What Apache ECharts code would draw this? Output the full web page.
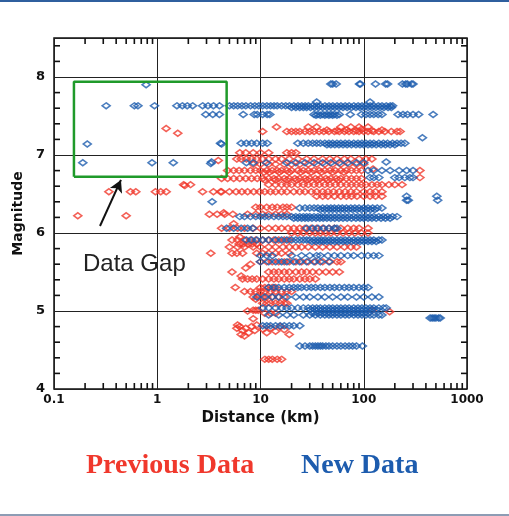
<!DOCTYPE html>
<html>
<head>
<meta charset="utf-8">
<script src="https://cdn.jsdelivr.net/npm/echarts@6.0.0/dist/echarts.min.js"></script>
<style>
  html, body { margin: 0; padding: 0; background: #fff; }
  #chart { width: 509px; height: 516px; }
</style>
</head>
<body>
<div id="chart"></div>
<script>
// distance (km), magnitude
const prevData = [
  [0.17,6.22],[0.5,6.22],[0.34,6.53],[0.55,6.53],[0.62,6.53],[0.96,6.53],[1.08,6.53],[1.22,6.53],
  [2.75,6.53],[3.5,6.53],[4.1,6.53],[1.85,6.61],[1.22,7.34],[1.58,7.28],[3.9,6.93],[3.3,5.74],
  [5.7,5.3],[4.4,6.26],[1.8,6.62],[2.1,6.62],
  [14.3,7.36],[29,7.36],[35,7.36],[60,7.36],[75,7.36],[90,7.36],[110,7.36],
  [10.5,7.3],[18,7.3],[20,7.3],[22,7.3],[24,7.3],[27,7.3],[30,7.3],[33,7.3],[37,7.3],[41,7.3],[46,7.3],
  [52,7.3],[58,7.3],[65,7.3],[72,7.3],[80,7.3],[90,7.3],[100,7.3],[110,7.3],[125,7.3],[140,7.3],
  [160,7.3],[185,7.3],[210,7.3],[225,7.3],
  [44,7.32],[55,7.31],[68,7.32],[85,7.31],[95,7.33],[120,7.31],[150,7.32],
  [6.3,7.03],[7.2,7.03],[8.5,7.03],[10,7.03],[12,7.03],[18,7.03],[20,7.03],[22,7.03],
  [5.9,6.95],[6.5,6.95],[7.3,6.95],[8.2,6.95],[9.2,6.95],[10.5,6.95],[12,6.95],[14,6.95],[16,6.95],
  [19,6.95],[23,6.95],[28,6.95],[33,6.95],[40,6.95],[47,6.95],[55,6.95],[65,6.95],[75,6.95],[90,6.95],
  [105,6.95],[120,6.95],
  [8.5,6.88],[10,6.88],[12,6.88],[14,6.88],[17,6.88],[20,6.88],[24,6.88],[29,6.88],[35,6.88],[42,6.88],
  [50,6.88],[60,6.88],[72,6.88],[85,6.88],[100,6.88],[123,6.82],
  [4.8,6.8],[5.5,6.8],[6.2,6.8],[7,6.8],[8,6.8],[9,6.8],[10,6.8],[11.5,6.8],[13,6.8],[14.5,6.8],[16,6.8],
  [18,6.8],[20,6.8],[23,6.8],[26,6.8],[29,6.8],[33,6.8],[37,6.8],[42,6.8],[47,6.8],[53,6.8],[60,6.8],
  [68,6.8],[76,6.8],[85,6.8],[95,6.8],[350,6.8],
  [10.8,6.78],[12.2,6.78],[15.2,6.78],[19,6.78],[24.5,6.78],[31,6.78],[39,6.78],[50,6.78],[64,6.78],
  [4.2,6.7],[4.8,6.7],[5.5,6.7],[6.3,6.7],[7.2,6.7],[8.2,6.7],[9.3,6.7],[10.5,6.7],[12,6.7],[13.5,6.7],
  [15,6.7],[17,6.7],[19,6.7],[21.5,6.7],[24,6.7],[27,6.7],[30,6.7],[34,6.7],[38,6.7],[43,6.7],[48,6.7],
  [54,6.7],[60,6.7],[68,6.7],[76,6.7],[85,6.7],[95,6.7],[350,6.71],
  [11,6.68],[14,6.68],[18,6.68],[22.5,6.68],[28.5,6.68],[36,6.68],[45,6.68],[57,6.68],
  [12,6.62],[14,6.62],[16,6.62],[18,6.62],[20,6.62],[23,6.62],[26,6.62],[29,6.62],[33,6.62],[37,6.62],
  [42,6.62],[47,6.62],[53,6.62],[60,6.62],[68,6.62],[76,6.62],[85,6.62],[95,6.62],[105,6.62],
  [120,6.62],[135,6.62],[150,6.62],[175,6.62],[200,6.62],[235,6.62],
  [4.2,6.53],[5,6.53],[5.8,6.53],[6.6,6.53],[7.5,6.53],[8.6,6.53],[9.8,6.53],[11,6.53],[12.5,6.53],
  [14,6.53],[16,6.53],[18,6.53],[21,6.53],[24,6.53],[27,6.53],[31,6.53],[35,6.53],[40,6.53],[45,6.53],
  [51,6.53],[58,6.53],[66,6.53],[75,6.53],[85,6.53],[100,6.53],[115,6.53],[130,6.53],[150,6.53],
  [35,6.47],[40,6.47],[45,6.47],[52,6.47],[60,6.47],[68,6.47],[76,6.47],[86,6.47],[100,6.47],
  [115,6.47],[130,6.47],[150,6.47],
  [9,6.33],[10,6.33],[11.5,6.33],[13,6.33],[14.5,6.33],[16.5,6.33],[18,6.33],[20,6.33],
  [3.2,6.24],[3.8,6.24],[4.5,6.24],[5.4,6.24],[7.5,6.24],[9,6.24],[10.5,6.24],[12,6.24],[14,6.24],
  [16,6.24],[18,6.24],
  [4.2,6.06],[5,6.06],[6,6.06],[7,6.06],[8.5,6.06],[10,6.06],[12,6.06],[14,6.06],[16,6.06],[18.5,6.06],
  [21,6.06],[24,6.06],[27,6.06],[31,6.06],[35,6.06],[40,6.06],[46,6.06],[52,6.06],[60,6.06],[70,6.06],
  [80,6.06],[90,6.06],[110,6.06],[5.5,6.12],
  [20,6.0],[23,6.0],[26,6.0],[30,6.0],[34,6.0],[38,6.0],[43,6.0],[48,6.0],[55,6.0],[63,6.0],[72,6.0],
  [82,6.0],[95,6.0],[110,6.0],
  [5.3,5.91],[6,5.91],[7,5.91],[8,5.91],[9,5.91],[10.5,5.91],[12,5.91],[13.5,5.91],[15,5.91],[17,5.91],
  [19,5.91],[6.3,5.95],
  [6.2,5.86],[6.8,5.86],[7.5,5.86],[8.3,5.86],[9.2,5.86],
  [5,5.82],[6,5.82],[7,5.82],[8.5,5.82],[10,5.82],[12,5.82],[14,5.82],[16.5,5.82],[19,5.82],[22,5.82],
  [25,5.82],[29,5.82],[34,5.82],[40,5.82],[47,5.82],[55,5.82],[65,5.82],[75,5.82],[85,5.82],
  [5.3,5.74],[5.9,5.74],[6.7,5.74],[9.2,5.74],[10.5,5.74],[12,5.74],[14,5.74],[16,5.74],[19,5.74],
  [10,5.63],[11.5,5.63],[13,5.63],[15,5.63],[17,5.63],[19,5.63],[22,5.63],[25,5.63],[29,5.63],
  [34,5.63],[40,5.63],[47,5.63],[55,5.63],[60,5.63],[8,5.6],
  [12,5.5],[13.5,5.5],[15,5.5],[17,5.5],[19,5.5],[22,5.5],[25,5.5],[28,5.5],[32,5.5],[37,5.5],
  [43,5.5],[50,5.5],[58,5.5],[7.2,5.55],[5.3,5.5],
  [6.5,5.45],[6.7,5.41],[7.5,5.41],[8.3,5.41],[9.2,5.41],[10.5,5.41],[12,5.41],[13.5,5.41],[15,5.41],
  [17,5.41],[19,5.41],[21,5.41],[24,5.41],[27,5.41],[30,5.41],[34,5.41],
  [10,5.3],[11,5.3],[12,5.3],[13,5.3],[14,5.3],
  [7,5.25],[8,5.25],[9,5.25],[10,5.25],[11,5.25],[12.5,5.25],[14,5.25],[16,5.25],[18,5.25],[20,5.25],
  [8.5,5.18],[9.5,5.18],[10.5,5.18],[11.5,5.18],[13,5.18],[15,5.18],[17,5.18],[9,5.15],
  [10.5,5.1],[11.5,5.1],[12.5,5.1],[14,5.1],[15.5,5.1],[17,5.1],[18,5.1],
  [7.5,5.0],[8.5,5.01],[9,5.01],[9.5,5.01],[120,5.01],[178,4.99],[11,4.97],[12.5,4.97],[14,4.97],
  [8.5,4.9],
  [5.9,4.78],[6,4.82],[6.3,4.8],[6.7,4.75],[7.2,4.78],[7.7,4.72],[6.5,4.7],[7,4.68],[8.2,4.8],
  [8.8,4.75],[9.2,4.82],[10.5,4.77],[11.5,4.72],[12.5,4.78],[14,4.74],[15.5,4.8],[17,4.76],[19,4.7],
  [11,4.38],[12,4.38],[13,4.38],[14.5,4.38],[16,4.38]
];

const newData = [
  [0.78,7.9],[48,7.91],[50,7.91],[54,7.91],[91,7.91],[93,7.91],[130,7.91],[163,7.91],[170,7.91],
  [237,7.91],[255,7.91],[265,7.91],[290,7.91],[300,7.91],
  [0.32,7.63],[0.6,7.63],[0.65,7.63],[0.94,7.63],[1.55,7.63],[1.75,7.63],[1.95,7.63],[2.2,7.63],
  [2.75,7.63],[3.1,7.63],[3.5,7.63],[4.0,7.63],[5,7.63],[5.5,7.63],[6,7.63],[6.6,7.63],[7.2,7.63],
  [8,7.63],[8.8,7.63],[9.6,7.63],[10.5,7.63],[11.5,7.63],[12.5,7.63],[13.5,7.63],[14.5,7.63],[16,7.63],
  [17.5,7.63],[19,7.63],[21,7.63],[23,7.63],[25,7.63],[27,7.63],[29,7.63],[32,7.63],[35,7.63],
  [38,7.63],[42,7.63],[46,7.63],[50,7.63],[55,7.63],[60,7.63],[66,7.63],[72,7.63],[80,7.63],[88,7.63],
  [96,7.63],[105,7.63],[115,7.63],[125,7.63],[138,7.63],[150,7.63],[165,7.63],[180,7.63],[190,7.63],
  [20,7.61],[22,7.61],[24,7.61],[26,7.61],[28,7.61],[30.5,7.61],[33.5,7.61],[36.5,7.61],[40,7.61],
  [44,7.61],[48,7.61],[52.5,7.61],[57.5,7.61],[63,7.61],[69,7.61],[76,7.61],[84,7.61],[92,7.61],
  [100,7.61],[110,7.61],[120,7.61],[131,7.61],[144,7.61],[157,7.61],[172,7.61],[185,7.61],
  [35,7.68],[115,7.68],
  [2.95,7.52],[3.45,7.52],[4.0,7.52],[6.8,7.52],[8.7,7.52],[9.3,7.52],[10.5,7.52],[11.6,7.52],
  [12.3,7.52],[33,7.52],[36,7.52],[40,7.52],[44,7.52],[48,7.52],[52,7.52],[58,7.52],[74,7.52],
  [95,7.52],[105,7.52],[115,7.52],[125,7.52],[138,7.52],[150,7.52],[215,7.52],[240,7.52],[265,7.52],
  [300,7.52],[340,7.52],[470,7.52],[34.5,7.51],[38,7.51],[42,7.51],[46,7.51],[50,7.51],[55,7.51],
  [370,7.22],
  [4.1,7.15],[4.2,7.14],[6.5,7.15],[7.3,7.15],[8.2,7.15],[9.2,7.15],[10.5,7.15],[11.6,7.15],[23,7.15],
  [26,7.15],[29,7.15],[32,7.15],[35,7.15],[38,7.15],[42,7.15],[46,7.15],[50,7.15],[55,7.15],[60,7.15],
  [66,7.15],[72,7.15],[80,7.15],[88,7.15],[96,7.15],[105,7.15],[115,7.15],[125,7.15],[140,7.15],
  [155,7.15],[170,7.15],[190,7.15],[210,7.15],[230,7.15],[250,7.15],
  [44,7.13],[48,7.13],[52.5,7.13],[57.5,7.13],[63,7.13],[69,7.13],[76,7.13],[84,7.13],[92,7.13],
  [100,7.13],[110,7.13],[120,7.13],[132,7.13],[147,7.13],[162,7.13],[180,7.13],[200,7.13],
  [0.21,7.14],[0.19,6.9],[0.89,6.9],[1.43,6.9],[3.36,6.91],[3.3,6.89],
  [7.3,6.9],[8.5,6.9],[11.4,6.9],[18,6.9],[22,6.9],[27,6.9],[33,6.9],[40,6.9],[48,6.9],[58,6.9],
  [70,6.9],[85,6.9],[100,6.9],[165,6.91],
  [110,6.8],[125,6.8],[150,6.8],[180,6.8],[220,6.8],[260,6.8],[300,6.8],
  [115,6.71],[125,6.71],[140,6.71],[200,6.71],[220,6.71],[250,6.71],[280,6.71],[300,6.71],
  [3.4,6.4],[260,6.42],[270,6.42],[520,6.42],[510,6.47],[260,6.47],
  [24,6.32],[27,6.32],[30,6.32],[33,6.32],[36,6.32],[40,6.32],[44,6.32],[48,6.32],[52,6.32],[57,6.32],
  [62,6.32],[68,6.32],[75,6.32],[82,6.32],[90,6.32],[100,6.32],[110,6.32],[122,6.32],[135,6.32],
  [150,6.32],[38,6.3],[42,6.3],[46,6.3],[50,6.3],[54.5,6.3],[59.5,6.3],[65,6.3],[71,6.3],[78,6.3],
  [86,6.3],[95,6.3],[105,6.3],[116,6.3],[128,6.3],
  [6.3,6.21],[7,6.21],[8,6.21],[9,6.21],[10,6.21],[11,6.21],[12,6.21],[13.5,6.21],[15,6.21],
  [16.5,6.21],[18,6.21],[20,6.21],[22,6.21],[24,6.21],[26,6.21],[28,6.21],[30,6.21],[33,6.21],
  [36,6.21],[39,6.21],[42,6.21],[46,6.21],[50,6.21],[55,6.21],[60,6.21],[66,6.21],[72,6.21],[80,6.21],
  [88,6.21],[96,6.21],[105,6.21],[115,6.21],[125,6.21],[140,6.21],[155,6.21],[170,6.21],[190,6.21],
  [210,6.21],[21,6.19],[23,6.19],[25,6.19],[27,6.19],[29,6.19],[31.5,6.19],[34.5,6.19],[37.5,6.19],
  [40.5,6.19],[44,6.19],[48,6.19],[52.5,6.19],[57.5,6.19],[63,6.19],[69,6.19],[76,6.19],[84,6.19],
  [92,6.19],[100,6.19],[110,6.19],[120,6.19],[132,6.19],[147,6.19],[162,6.19],[180,6.19],
  [4.7,6.06],[5.5,6.06],[6.5,6.06],[7.5,6.06],[8.4,6.06],[28,6.06],[32,6.06],[36,6.06],[41,6.06],
  [46,6.06],[52,6.06],[55,6.06],
  [7.3,5.91],[8.2,5.91],[9.2,5.91],[10.5,5.91],[12,5.91],[14,5.91],[16,5.91],[18,5.91],[20,5.91],
  [22,5.91],[24,5.91],[26,5.91],[28,5.91],[30,5.91],[33,5.91],[36,5.91],[39,5.91],[42,5.91],[46,5.91],
  [50,5.91],[55,5.91],[60,5.91],[66,5.91],[72,5.91],[80,5.91],[88,5.91],[96,5.91],[105,5.91],
  [115,5.91],[125,5.91],[140,5.91],[150,5.91],[31.5,5.89],[34.5,5.89],[37.5,5.89],[40.5,5.89],
  [44,5.89],[48,5.89],[52.5,5.89],[57.5,5.89],[63,5.89],[69,5.89],[76,5.89],[84,5.89],[92,5.89],
  [100,5.89],[110,5.89],[120,5.89],[132,5.89],
  [10,5.71],[11.5,5.71],[13,5.71],[20,5.71],[25,5.71],[30,5.71],[35,5.71],[38,5.71],[45,5.71],
  [52,5.71],[60,5.71],[70,5.71],[80,5.71],[95,5.71],[110,5.71],[125,5.71],[140,5.71],
  [10,5.63],[12,5.63],[14,5.63],[16,5.63],[18,5.63],[21,5.63],[24,5.63],[28,5.63],[33,5.63],[38,5.63],
  [46,5.63],
  [12,5.3],[13.5,5.3],[15,5.3],[17,5.3],[19,5.3],[21,5.3],[23,5.3],[25,5.3],[28,5.3],[31,5.3],[34,5.3],
  [38,5.3],[42,5.3],[47,5.3],[52,5.3],[58,5.3],[65,5.3],[72,5.3],[80,5.3],[90,5.3],[100,5.3],[110,5.3],
  [9.2,5.18],[11,5.18],[13,5.18],[15,5.18],[18,5.18],[22,5.18],[26,5.18],[30,5.18],[36,5.18],
  [42,5.18],[50,5.18],[60,5.18],[70,5.18],[85,5.18],[100,5.18],[120,5.18],[140,5.18],
  [10.5,5.04],[12,5.04],[14,5.04],[16,5.04],[18,5.04],[20,5.04],[23,5.04],[26,5.04],[29,5.04],
  [32,5.04],[35,5.04],[38,5.04],[42,5.04],[46,5.04],[50,5.04],[55,5.04],[60,5.04],[66,5.04],[72,5.04],
  [80,5.04],[88,5.04],[96,5.04],[105,5.04],[115,5.04],[125,5.04],[140,5.04],[155,5.04],[165,5.04],
  [30.5,5.02],[33.5,5.02],[36.5,5.02],[40,5.02],[44,5.02],[48,5.02],[52.5,5.02],[57.5,5.02],
  [63,5.02],[69,5.02],[76,5.02],[84,5.02],[92,5.02],[100,5.02],[110,5.02],[120,5.02],[132,5.02],
  [12,4.95],[15,4.95],[18,4.95],[21,4.95],[26,4.95],[30,4.95],[34,4.95],[38,4.95],[42,4.95],[46,4.95],
  [50,4.95],[55,4.95],[60,4.95],[66,4.95],[72,4.95],[80,4.95],[88,4.95],[96,4.95],[105,4.95],
  [115,4.95],[125,4.95],[140,4.95],[150,4.95],[32,4.97],[36,4.97],[40,4.97],[44,4.97],[48,4.97],
  [52.5,4.97],[57.5,4.97],[63,4.97],[69,4.97],[76,4.97],[84,4.97],[92,4.97],[100,4.97],[110,4.97],
  [440,4.91],[460,4.91],[480,4.91],[500,4.91],[530,4.91],[550,4.91],
  [10.5,4.81],[11.5,4.81],[12.5,4.81],[14,4.81],[15.5,4.81],[17,4.81],[19,4.81],[21,4.81],[24,4.81],
  [24,4.55],[27,4.55],[30,4.55],[32,4.55],[34,4.55],[36,4.55],[38,4.55],[40,4.55],[43,4.55],
  [46,4.55],[50,4.55],[55,4.55],[60,4.55],[66,4.55],[72,4.55],[78,4.55],[85,4.55],[97,4.55]
];

// the "data gap" box and the arrow pointing at it
const gapBox = [[0.156,6.72],[4.7,6.72],[4.7,7.94],[0.156,7.94],[0.156,6.72]];
const arrowFrom = [0.279, 6.09];
const arrowTo = [0.445, 6.68];

const xMinorTicks = [0.2,0.3,0.4,0.5,0.6,0.7,0.8,0.9, 2,3,4,5,6,7,8,9,
  20,30,40,50,60,70,80,90, 200,300,400,500,600,700,800,900];
const yMinorTicks = [4.2,4.4,4.6,4.8,5.2,5.4,5.6,5.8,6.2,6.4,6.6,6.8,
  7.2,7.4,7.6,7.8,8.2,8.4];

const X_MIN = 0.1, X_MAX = 1000, Y_MIN = 4, Y_MAX = 8.5;
const RED = '#f0382c';
const BLUE = '#1d5cae';
const LABEL_FONT = 'DejaVu Sans';
const TICK = 6;
const TW = 1.6;

const chart = echarts.init(document.getElementById('chart'));

const option = {
  backgroundColor: '#fff',
  animation: false,
  grid: {left: 54, right: 42, top: 38, bottom: 127, show: true,
    borderColor: '#111', borderWidth: 1.5},
  xAxis: {
    type: 'log', logBase: 10, min: X_MIN, max: X_MAX,
    name: 'Distance (km)', nameLocation: 'middle', nameGap: 20,
    nameTextStyle: {fontFamily: LABEL_FONT, fontWeight: 'bold', fontSize: 15, color: '#111'},
    axisLine: {show: false}, axisTick: {show: false},
    axisLabel: {margin: 5, color: '#111', fontFamily: LABEL_FONT,
      fontWeight: 'bold', fontSize: 12, formatter: v => String(+(+v).toPrecision(3))},
    splitLine: {show: true, lineStyle: {color: '#222', width: 1}}
  },
  yAxis: {
    type: 'value', min: Y_MIN, max: Y_MAX, interval: 1,
    name: 'Magnitude', nameLocation: 'middle', nameGap: 22,
    nameTextStyle: {fontFamily: LABEL_FONT, fontWeight: 'bold', fontSize: 14, color: '#111'},
    axisLine: {show: false}, axisTick: {show: false},
    axisLabel: {margin: 9, color: '#111', fontFamily: LABEL_FONT, fontWeight: 'bold', fontSize: 13,
      formatter: v => (Number.isInteger(v) ? String(v) : '')},
    splitLine: {show: true, lineStyle: {color: '#222', width: 1}}
  },
  series: [
    {
      name: 'Previous Data', type: 'scatter', data: prevData,
      symbol: 'diamond', symbolSize: [8, 6],
      itemStyle: {color: 'rgba(0,0,0,0)', borderColor: RED, borderWidth: 1.6}
    },
    {
      name: 'New Data', type: 'scatter', data: newData,
      symbol: 'diamond', symbolSize: [8, 6],
      itemStyle: {color: 'rgba(0,0,0,0)', borderColor: BLUE, borderWidth: 1.6}
    },
    {
      name: 'gap', type: 'line', data: gapBox, showSymbol: false, symbol: 'none', z: 5,
      lineStyle: {color: '#1f9a2a', width: 2.5},
      markLine: {
        silent: true, symbol: ['none', 'arrow'], symbolSize: [10, 12],
        label: {show: false},
        lineStyle: {color: '#111', width: 2, type: 'solid'},
        data: [[{coord: arrowFrom}, {coord: arrowTo}]]
      }
    }
  ],
  graphic: [
    {type: 'rect', shape: {x: 0, y: 0, width: 509, height: 2}, style: {fill: '#2f5f9e'}},
    {type: 'rect', shape: {x: 0, y: 514, width: 509, height: 2}, style: {fill: '#8d9cb4'}},
    {type: 'text', left: 83, top: 252,
      style: {text: 'Data Gap', fontFamily: 'Liberation Sans', fontSize: 24, fill: '#222'}},
    {type: 'text', left: 86, top: 452,
      style: {text: 'Previous Data', fontFamily: 'Liberation Serif', fontWeight: 'bold',
        fontSize: 28, fill: RED}},
    {type: 'text', left: 301, top: 452,
      style: {text: 'New Data', fontFamily: 'Liberation Serif', fontWeight: 'bold',
        fontSize: 28, fill: BLUE}}
  ]
};

chart.setOption(option);

// inward minor ticks on all four sides, placed through the chart's own scales
const tickEls = [];
const px = p => chart.convertToPixel({gridIndex: 0}, p);
xMinorTicks.forEach(v => {
  const b = px([v, Y_MIN]);
  const t = px([v, Y_MAX]);
  tickEls.push({type: 'rect', zlevel: 1, shape: {x: b[0] - TW / 2, y: b[1] - TICK, width: TW, height: TICK},
    style: {fill: '#111'}});
  tickEls.push({type: 'rect', zlevel: 1, shape: {x: t[0] - TW / 2, y: t[1], width: TW, height: TICK},
    style: {fill: '#111'}});
});
yMinorTicks.forEach(v => {
  const l = px([X_MIN, v]);
  const r = px([X_MAX, v]);
  tickEls.push({type: 'rect', zlevel: 1, shape: {x: l[0], y: l[1] - TW / 2, width: TICK, height: TW},
    style: {fill: '#111'}});
  tickEls.push({type: 'rect', zlevel: 1, shape: {x: r[0] - TICK, y: r[1] - TW / 2, width: TICK, height: TW},
    style: {fill: '#111'}});
});
chart.setOption({graphic: option.graphic.concat(tickEls)});
</script>
</body>
</html>
